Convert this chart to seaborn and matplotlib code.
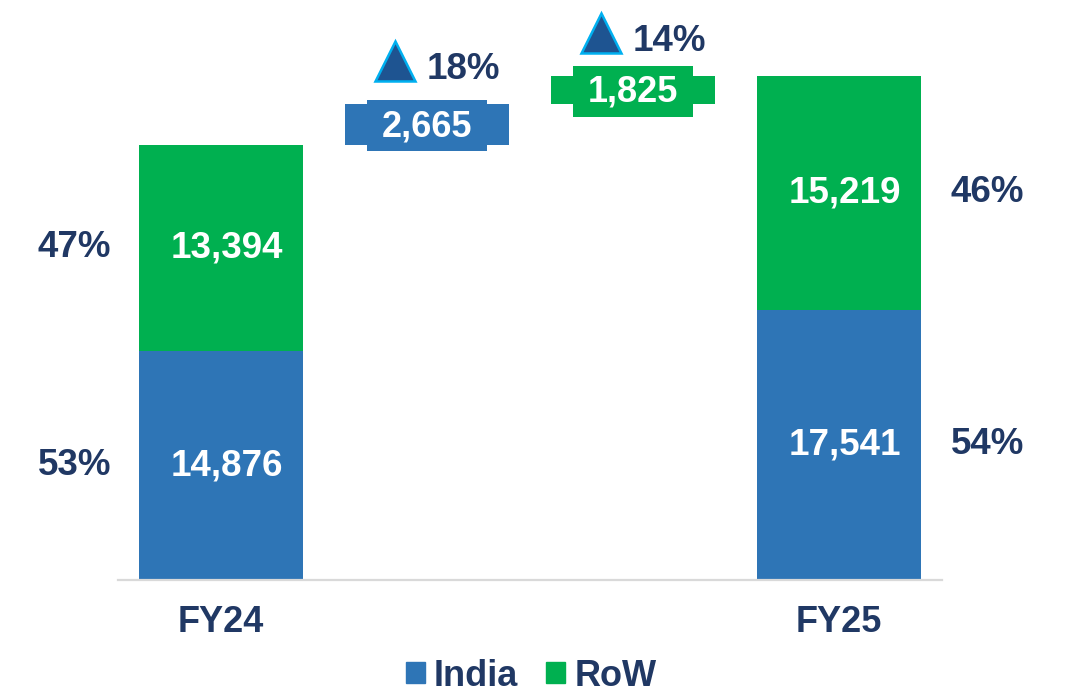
import matplotlib
matplotlib.use("Agg")
import matplotlib.pyplot as plt
import matplotlib.transforms as mtransforms
from matplotlib.patches import Patch
import numpy as np
import pandas as pd
import seaborn as sns

# data
years = ["FY24", "FY25"]
india = [14876, 17541]
row = [13394, 15219]
india_share = ["53%", "54%"]
row_share = ["47%", "46%"]
growth = ["18%", "14%"]

slots = ["FY24", "India growth", "RoW growth", "FY25"]
tick_labels = ["FY24", "", "", "FY25"]

BLUE = "#2E75B6"
GREEN = "#00B050"
NAVY = "#203864"

df = pd.DataFrame({"year": years, "India": india, "RoW": row})
df["Total"] = df["India"] + df["RoW"]
delta_india = india[1] - india[0]
delta_row = row[1] - row[0]

sns.set_theme(style="white")
plt.rcParams["font.family"] = ["Liberation Sans", "DejaVu Sans"]
plt.rcParams["font.weight"] = "bold"

fig = plt.figure(figsize=(10.69, 6.96), dpi=100)
ax = fig.add_axes([118 / 1069, 116 / 696, 824 / 1069, 570 / 696])

# stacked bars: total (green) then India (blue) on top of it
sns.barplot(data=df, x="year", y="Total", order=slots, color=GREEN,
            saturation=1, errorbar=None, width=0.8, linewidth=0, ax=ax)
sns.barplot(data=df, x="year", y="India", order=slots, color=BLUE,
            saturation=1, errorbar=None, width=0.8, linewidth=0, ax=ax)

# floating growth bars
base1 = df["Total"][0]
base2 = base1 + delta_india
ax.bar([1], [delta_india], bottom=[base1], width=0.8, color=BLUE, linewidth=0)
ax.bar([2], [delta_row], bottom=[base2], width=0.8, color=GREEN, linewidth=0)

# label boxes on the growth bars (narrower, taller)
box_h = 3300
for x, bot, d, col in [(1, base1, delta_india, BLUE), (2, base2, delta_row, GREEN)]:
    mid = bot + d / 2
    ax.bar([x], [box_h], bottom=[mid - box_h / 2 - 100], width=0.58, color=col, linewidth=0)
    ax.text(x, mid - 150, f"{d:,}", ha="center", va="center", color="white",
            fontsize=26, fontweight="bold")

# growth markers
for x, top, g in [(1, base2, growth[0]), (2, base2 + delta_row, growth[1])]:
    tri = mtransforms.offset_copy(ax.transData, fig=fig, x=-32, y=43, units="dots")
    ax.plot([x], [top], marker="^", markersize=29, color="#1E5491",
            markeredgecolor="#00B0F0", markeredgewidth=1.8, transform=tri, clip_on=False)
    txt = mtransforms.offset_copy(ax.transData, fig=fig, x=0, y=34, units="dots")
    ax.text(x, top, g, ha="left", va="center", color=NAVY, fontsize=26.5,
            fontweight="bold", transform=txt)

# values and shares on the stacked bars
val_tr = mtransforms.offset_copy(ax.transData, fig=fig, x=6, y=0, units="dots")
for i, xpos in enumerate([0, 3]):
    ax.text(xpos, india[i] / 2, f"{india[i]:,}", ha="center", va="center",
            color="white", fontsize=26.5, fontweight="bold", transform=val_tr)
    ax.text(xpos, india[i] + row[i] / 2, f"{row[i]:,}", ha="center", va="center",
            color="white", fontsize=26.5, fontweight="bold", transform=val_tr)
    side = -0.71 if i == 0 else 0.72
    ax.text(xpos + side, india[i] / 2, india_share[i], ha="center", va="center",
            color=NAVY, fontsize=26.5, fontweight="bold")
    ax.text(xpos + side, india[i] + row[i] / 2, row_share[i], ha="center", va="center",
            color=NAVY, fontsize=26.5, fontweight="bold")

ax.set_xlim(-0.5, 3.5)
ax.set_ylim(0, 37030)
ax.set_xticks(range(4))
ax.set_xticklabels(tick_labels, fontsize=26, fontweight="bold", color=NAVY)
ax.tick_params(axis="x", length=0, pad=18)
ax.set_yticks([])
ax.set_xlabel("")
ax.set_ylabel("")
sns.despine(ax=ax, left=True)
ax.spines["bottom"].set_color("#D9D9D9")
ax.spines["bottom"].set_linewidth(1.6)

handles = [Patch(color=BLUE, label="India"), Patch(color=GREEN, label="RoW")]
leg = fig.legend(handles=handles, loc="center", bbox_to_anchor=(531 / 1069, 1 - 676 / 696),
                 ncol=2, frameon=False, prop={"size": 26, "weight": "bold"},
                 handlelength=0.53, handleheight=0.53, handletextpad=0.25,
                 columnspacing=0.78, borderpad=0)
for t in leg.get_texts():
    t.set_color(NAVY)

fig.savefig("out.png", dpi=100)
